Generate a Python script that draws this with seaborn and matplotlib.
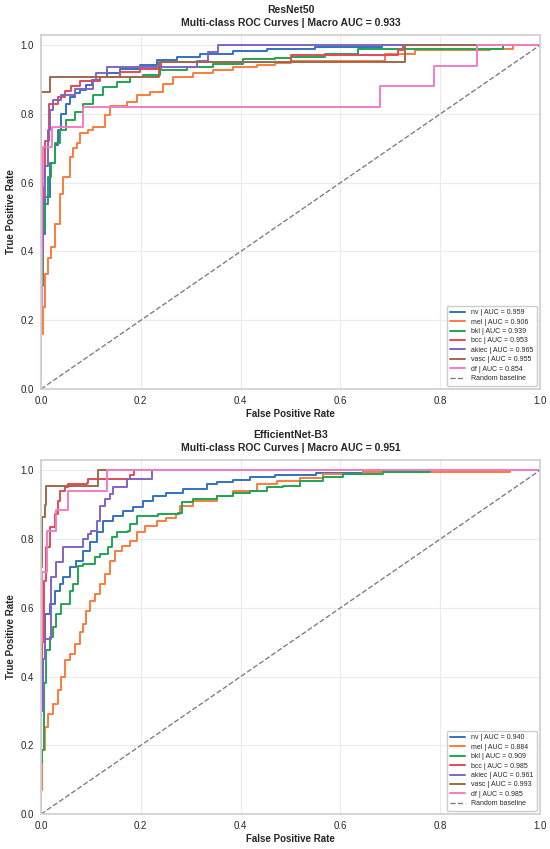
import pandas as pd
import seaborn as sns
import matplotlib
matplotlib.use("Agg")
import matplotlib.pyplot as plt

classes = ["nv", "mel", "bkl", "bcc", "akiec", "vasc", "df"]
colors = ["#3272c2", "#fa7d3c", "#1fa553", "#e24a56", "#8463c3", "#a0694b", "#f27cc6"]

# ResNet50 curves
resnet_auc = [0.959, 0.906, 0.939, 0.953, 0.965, 0.955, 0.854]
resnet_macro = 0.933
resnet_fpr = {
    "nv": [0, 0, 0.004, 0.008, 0.019, 0.028, 0.035, 0.041, 0.05, 0.058, 0.068, 0.078, 0.09, 0.102, 0.118,
           0.132, 0.158, 0.198, 0.232, 0.272, 0.319, 0.385, 0.452, 0.55, 0.683, 1.0],
    "mel": [0, 0, 0.004, 0.008, 0.015, 0.021, 0.028, 0.038, 0.044, 0.058, 0.065, 0.072, 0.078, 0.095, 0.105,
            0.128, 0.138, 0.172, 0.192, 0.218, 0.245, 0.265, 0.305, 0.345, 0.385, 0.432, 0.468, 0.5, 0.69,
            0.75, 0.9, 0.946, 1.0],
    "bkl": [0, 0, 0.004, 0.008, 0.015, 0.021, 0.028, 0.038, 0.051, 0.068, 0.085, 0.105, 0.125, 0.152, 0.178,
            0.205, 0.238, 0.292, 0.345, 0.405, 0.468, 0.5, 0.57, 0.636, 0.926, 1.0],
    "bcc": [0, 0, 0.004, 0.008, 0.017, 0.035, 0.048, 0.061, 0.078, 0.118, 0.158, 0.198, 0.24, 0.5, 0.715,
            0.725, 1.0],
    "akiec": [0, 0, 0.004, 0.008, 0.014, 0.018, 0.025, 0.041, 0.068, 0.105, 0.11, 0.132, 0.312, 0.335,
              0.355, 1.0],
    "vasc": [0, 0, 0.018, 0.236, 0.73, 1.0],
    "df": [0, 0, 0.002, 0.004, 0.023, 0.085, 0.68, 0.788, 0.873, 1.0],
}
resnet_tpr = {
    "nv": [0, 0.35, 0.45, 0.558, 0.656, 0.71, 0.752, 0.801, 0.83, 0.85, 0.86, 0.869, 0.885, 0.898, 0.906,
           0.918, 0.932, 0.942, 0.958, 0.966, 0.973, 0.983, 0.988, 0.995, 1.0, 1.0],
    "mel": [0, 0.16, 0.24, 0.336, 0.38, 0.413, 0.48, 0.568, 0.617, 0.675, 0.70, 0.714, 0.744, 0.752, 0.762,
            0.796, 0.822, 0.835, 0.854, 0.864, 0.888, 0.906, 0.918, 0.927, 0.937, 0.942, 0.949, 0.955, 0.975,
            0.985, 0.99, 1.0, 1.0],
    "bkl": [0, 0.3, 0.461, 0.539, 0.617, 0.656, 0.714, 0.752, 0.782, 0.806, 0.83, 0.854, 0.879, 0.893, 0.908,
            0.913, 0.927, 0.937, 0.944, 0.961, 0.963, 0.965, 0.975, 0.99, 1.0, 1.0],
    "bcc": [0, 0.45, 0.6, 0.72, 0.83, 0.849, 0.867, 0.881, 0.896, 0.906, 0.922, 0.932, 0.952, 0.97, 0.987,
            1.0, 1.0],
    "akiec": [0, 0.4, 0.55, 0.65, 0.752, 0.81, 0.84, 0.855, 0.871, 0.898, 0.92, 0.937, 0.955, 0.979, 1.0, 1.0],
    "vasc": [0, 0.864, 0.908, 0.952, 1.0, 1.0],
    "df": [0, 0.24, 0.59, 0.704, 0.762, 0.82, 0.881, 0.94, 1.0, 1.0],
}

# EfficientNet-B3 curves
effnet_auc = [0.940, 0.884, 0.909, 0.985, 0.961, 0.993, 0.985]
effnet_macro = 0.951
effnet_fpr = {
    "nv": [0, 0, 0.004, 0.008, 0.018, 0.028, 0.038, 0.045, 0.058, 0.071, 0.085, 0.098, 0.112, 0.125, 0.145,
           0.165, 0.185, 0.205, 0.225, 0.25, 0.285, 0.332, 0.352, 0.385, 0.419, 0.469, 0.552, 0.646, 0.72, 1.0],
    "mel": [0, 0, 0.003, 0.008, 0.015, 0.025, 0.035, 0.041, 0.048, 0.058, 0.068, 0.078, 0.085, 0.091, 0.098,
            0.108, 0.118, 0.128, 0.138, 0.148, 0.162, 0.178, 0.192, 0.208, 0.232, 0.25, 0.271, 0.278, 0.305,
            0.352, 0.385, 0.432, 0.472, 0.519, 0.565, 0.646, 0.94, 1.0],
    "bkl": [0, 0, 0.003, 0.006, 0.011, 0.018, 0.025, 0.031, 0.041, 0.058, 0.065, 0.075, 0.085, 0.108, 0.118,
            0.135, 0.142, 0.152, 0.175, 0.178, 0.192, 0.235, 0.275, 0.282, 0.305, 0.352, 0.385, 0.419, 0.452,
            0.485, 0.519, 0.565, 0.605, 0.685, 0.78, 1.0],
    "bcc": [0, 0, 0.003, 0.006, 0.011, 0.018, 0.028, 0.035, 0.038, 0.048, 0.055, 0.092, 0.095, 0.178, 0.187, 1.0],
    "akiec": [0, 0, 0.004, 0.008, 0.021, 0.031, 0.045, 0.085, 0.095, 0.101, 0.112, 0.118, 0.128, 0.138, 0.145,
              0.172, 0.222, 1.0],
    "vasc": [0, 0, 0.002, 0.008, 0.011, 0.114, 1.0],
    "df": [0, 0, 0.003, 0.013, 0.031, 0.055, 0.133, 1.0],
}
effnet_tpr = {
    "nv": [0, 0.3, 0.45, 0.582, 0.611, 0.65, 0.669, 0.689, 0.718, 0.737, 0.766, 0.79, 0.819, 0.853, 0.867,
           0.882, 0.892, 0.911, 0.925, 0.935, 0.945, 0.96, 0.967, 0.973, 0.981, 0.986, 0.991, 0.996, 1.0, 1.0],
    "mel": [0, 0.07, 0.186, 0.253, 0.292, 0.321, 0.36, 0.398, 0.447, 0.466, 0.495, 0.529, 0.553, 0.592, 0.621,
            0.64, 0.669, 0.698, 0.737, 0.766, 0.78, 0.795, 0.819, 0.838, 0.853, 0.86, 0.873, 0.897, 0.911,
            0.926, 0.94, 0.96, 0.969, 0.978, 0.989, 0.994, 1.0, 1.0],
    "bkl": [0, 0.15, 0.186, 0.38, 0.476, 0.515, 0.544, 0.582, 0.611, 0.65, 0.669, 0.722, 0.727, 0.747, 0.756,
            0.776, 0.805, 0.819, 0.824, 0.843, 0.867, 0.872, 0.877, 0.907, 0.915, 0.926, 0.935, 0.94, 0.95,
            0.955, 0.969, 0.981, 0.989, 0.994, 1.0, 1.0],
    "bcc": [0, 0.3, 0.5, 0.679, 0.776, 0.834, 0.872, 0.911, 0.94, 0.95, 0.96, 0.964, 0.974, 0.985, 1.0, 1.0],
    "akiec": [0, 0.3, 0.45, 0.51, 0.689, 0.732, 0.776, 0.8, 0.814, 0.824, 0.853, 0.897, 0.916, 0.93, 0.95,
              0.974, 1.0, 1.0],
    "vasc": [0, 0.72, 0.863, 0.9, 0.955, 1.0, 1.0],
    "df": [0, 0.5, 0.703, 0.824, 0.884, 0.94, 1.0, 1.0],
}

models = [
    ("ResNet50", resnet_fpr, resnet_tpr, resnet_auc, resnet_macro),
    ("EfficientNet-B3", effnet_fpr, effnet_tpr, effnet_auc, effnet_macro),
]

sns.set_theme(style="whitegrid")
plt.rcParams["font.family"] = ["Liberation Sans", "DejaVu Sans"]

fig, axes = plt.subplots(2, 1, figsize=(5.5, 8.49), dpi=100)
fig.subplots_adjust(left=0.0745, right=0.982, top=0.959, bottom=0.041, hspace=0.2)

for ax, (name, fpr, tpr, aucs, macro) in zip(axes, models):
    rows = []
    for c, a in zip(classes, aucs):
        lab = f"{c} | AUC = {a:.3f}"
        for x, y in zip(fpr[c], tpr[c]):
            rows.append({"fpr": x, "tpr": y, "label": lab})
    df = pd.DataFrame(rows)
    labels = [f"{c} | AUC = {a:.3f}" for c, a in zip(classes, aucs)]
    sns.lineplot(data=df, x="fpr", y="tpr", hue="label", hue_order=labels,
                 palette=colors, estimator=None, sort=False, drawstyle="steps-post",
                 linewidth=1.4, ax=ax)
    ax.plot([0, 1], [0, 1], linestyle="--", color="gray", linewidth=1.0, label="Random baseline")
    ax.set_xlim(0, 1)
    ax.set_ylim(0, 1.03)
    ax.set_title(f"{name}\nMulti-class ROC Curves | Macro AUC = {macro:.3f}",
                 fontsize=7.5, fontweight="bold", pad=6.3, linespacing=1.38)
    ax.set_xlabel("False Positive Rate", fontsize=7, fontweight="bold", labelpad=2)
    ax.set_ylabel("True Positive Rate", fontsize=7, fontweight="bold", labelpad=3)
    ax.tick_params(labelsize=7, pad=5, length=0)
    ax.grid(True, color="#ebebeb", linewidth=0.8)
    for s in ax.spines.values():
        s.set_edgecolor("#d0d0d0")
    ax.legend(loc="lower right", fontsize=5, labelspacing=0.35, handlelength=2.2,
              borderpad=0.5, frameon=True, framealpha=1)

fig.savefig("out.png", dpi=100)
